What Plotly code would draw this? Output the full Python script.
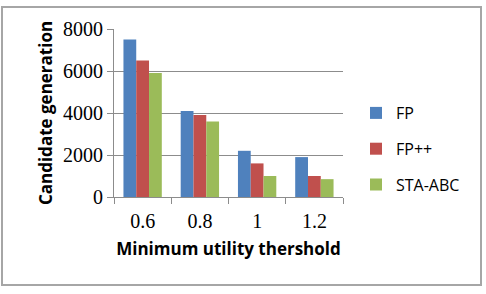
import plotly.graph_objects as go

categories = ["0.6", "0.8", "1", "1.2"]
fp = [7500, 4100, 2200, 1900]
fp_pp = [6500, 3900, 1600, 1000]
sta_abc = [5900, 3600, 1000, 850]
y_ticks = [0, 2000, 4000, 6000, 8000]

colors = ["#4F81BD", "#C0504D", "#9BBB59"]

fig = go.Figure()
for name, vals, c in [("FP", fp, colors[0]), ("FP++", fp_pp, colors[1]), ("STA-ABC", sta_abc, colors[2])]:
    fig.add_trace(go.Bar(x=categories, y=vals, name=name, legendgroup=name,
                         marker=dict(color=c, line=dict(width=0))))

L, R, T, B = 114, 343, 29, 197
W, H = 486, 294
pw, ph = R - L, B - T

def px(x):
    return (x - L) / pw

def py(y):
    return (B - y) / ph

SERIF = "Liberation Serif, Times New Roman, serif"
SANS = "Open Sans"

fig.update_layout(
    width=W, height=H,
    margin=dict(l=L, r=W - R, t=T, b=H - B),
    paper_bgcolor="white", plot_bgcolor="white",
    barmode="group", bargap=0.33, bargroupgap=0,
    showlegend=True,
    legend=dict(x=px(356), y=py(96), xanchor="left", yanchor="top",
                font=dict(family=SANS, size=16, color="#000"),
                tracegroupgap=12, itemwidth=30, bgcolor="rgba(0,0,0,0)"),
    shapes=[dict(type="rect", xref="paper", yref="paper",
                 x0=px(2), x1=px(481), y0=py(7), y1=py(285),
                 line=dict(color="#A6A6A6", width=2), layer="below")],
)
fig.update_xaxes(
    type="category", showline=True, linecolor="#8C8C8C", linewidth=1,
    ticks="outside", tickson="boundaries", ticklen=6, tickcolor="#8C8C8C",
    ticklabelstandoff=6,
    tickfont=dict(family=SERIF, size=20, color="#000"),
    title=dict(text="<b>Minimum utility thershold</b>", standoff=12,
               font=dict(family=SANS, size=17, color="#000")),
)
fig.update_yaxes(
    range=[0, 8000], tickvals=y_ticks, showline=True, linecolor="#8C8C8C", linewidth=1,
    ticks="outside", ticklen=6, tickcolor="#8C8C8C",
    showgrid=True, gridcolor="#8C8C8C", gridwidth=1, zeroline=False,
    tickfont=dict(family=SERIF, size=20, color="#000"),
    title=dict(text="<b>Candidate generation</b>", standoff=6,
               font=dict(family=SANS, size=17, color="#000")),
)

fig.write_html("out.html")
